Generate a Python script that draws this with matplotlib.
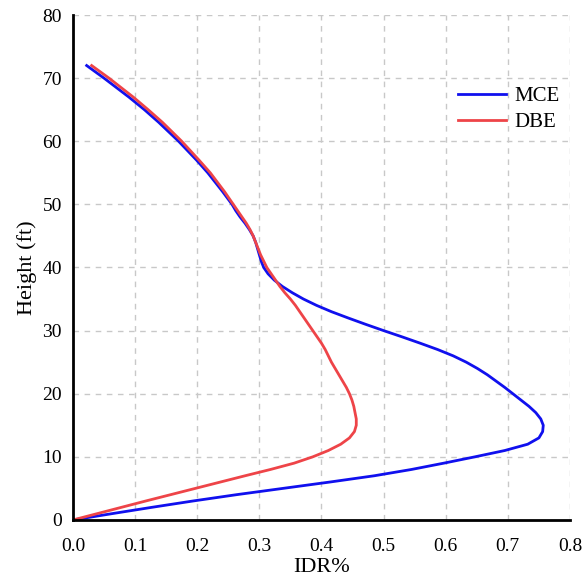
import matplotlib.pyplot as plt

# Inter-storey drift ratio profiles along the building height
mce_height = [0, 1, 2, 3, 4, 5, 6, 7, 8, 9, 10, 11, 12, 13, 14, 15, 16, 17,
              18, 19, 20, 21, 22, 23, 24, 25, 26, 27, 28, 29, 30, 31, 32, 33,
              34, 35, 36, 37, 38, 39, 40, 41, 42, 43, 44, 45, 46, 47, 48, 49,
              50, 52, 55, 57, 60, 63, 65, 67, 70, 72]
mce_idr = [0.0, 0.063, 0.127, 0.193, 0.263, 0.338, 0.413, 0.485, 0.545,
           0.597, 0.647, 0.695, 0.732, 0.75, 0.756, 0.757, 0.753, 0.745,
           0.734, 0.721, 0.708, 0.695, 0.681, 0.667, 0.651, 0.633, 0.612,
           0.587, 0.559, 0.53, 0.50, 0.471, 0.443, 0.416, 0.392, 0.371, 0.353,
           0.337, 0.324, 0.314, 0.307, 0.303, 0.30, 0.297, 0.294, 0.29, 0.284,
           0.277, 0.269, 0.262, 0.256, 0.241, 0.217, 0.199, 0.17, 0.138,
           0.115, 0.09, 0.05, 0.022]

dbe_height = [0, 1, 2, 3, 4, 5, 6, 7, 8, 9, 10, 11, 12, 13, 14, 15, 16, 17,
              18, 19, 20, 21, 22, 23, 24, 25, 26, 27, 28, 29, 30, 31, 32, 33,
              34, 35, 36, 37, 38, 39, 40, 41, 42, 43, 44, 45, 46, 47, 48, 49,
              50, 52, 55, 57, 60, 63, 65, 67, 70, 72]
dbe_idr = [0.0, 0.039, 0.078, 0.117, 0.157, 0.197, 0.237, 0.277, 0.318,
           0.356, 0.386, 0.411, 0.431, 0.445, 0.453, 0.456, 0.456, 0.454,
           0.452, 0.449, 0.445, 0.44, 0.434, 0.428, 0.422, 0.416, 0.411,
           0.406, 0.40, 0.393, 0.386, 0.379, 0.372, 0.365, 0.358, 0.35, 0.341,
           0.333, 0.326, 0.319, 0.312, 0.307, 0.302, 0.298, 0.294, 0.29,
           0.285, 0.279, 0.272, 0.265, 0.258, 0.244, 0.221, 0.203, 0.175,
           0.144, 0.121, 0.097, 0.058, 0.030]

plt.rcParams['font.family'] = ['Liberation Serif', 'DejaVu Serif']

fig = plt.figure(figsize=(5.84, 5.79), dpi=100)
ax = fig.add_axes([0.125, 0.102, 0.851, 0.872])

ax.plot(mce_idr, mce_height, color='#1010ee', linewidth=2, label='MCE')
ax.plot(dbe_idr, dbe_height, color='#ee4448', linewidth=2, label='DBE')

ax.set_xlim(0, 0.8)
ax.set_ylim(0, 80)
ax.set_xticks([i / 10 for i in range(9)])
ax.set_xticklabels([f"{i / 10:.1f}" for i in range(9)])
ax.set_yticks(range(0, 81, 10))
ax.tick_params(axis='x', length=0, labelsize=14, pad=13)
ax.tick_params(axis='y', length=0, labelsize=14, pad=8)

ax.grid(True, color='#c8c8c8', linestyle=(0, (4, 4)), linewidth=1)
ax.set_axisbelow(True)
for side in ['top', 'right']:
    ax.spines[side].set_visible(False)
for side in ['left', 'bottom']:
    ax.spines[side].set_linewidth(2)

ax.set_xlabel('IDR%', fontsize=16, labelpad=2)
ax.set_ylabel('Height (ft)', fontsize=16, labelpad=4)

ax.legend(loc='upper right', bbox_to_anchor=(1.016, 0.895), frameon=False,
          fontsize=15, handlelength=2.3, handletextpad=0.4, labelspacing=0.3)

plt.savefig('out.png')
